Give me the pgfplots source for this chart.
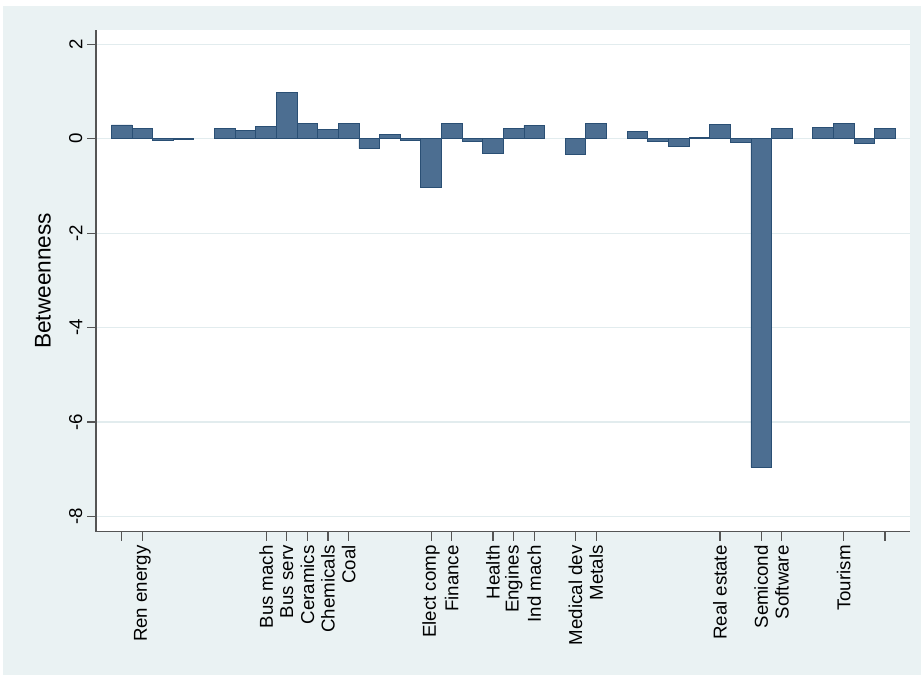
\documentclass[border=0pt]{standalone}
\usepackage{pgfplots}
\pgfplotsset{compat=1.18}
\usepackage{fontspec}
\setmainfont{Liberation Sans}
\definecolor{pagebg}{RGB}{234,242,243}
\definecolor{barfill}{RGB}{76,110,145}
\definecolor{baredge}{RGB}{42,79,116}
\definecolor{axisgray}{RGB}{85,85,85}
\definecolor{gridc}{RGB}{226,236,238}

\begin{document}
\begin{tikzpicture}[x=0.75pt,y=0.75pt]
% page and plot-region backgrounds
\fill[white] (0,0) rectangle (921,678);
\fill[pagebg] (3.3,3) rectangle (921,672);
\fill[white] (96,146.3) rectangle (910,648);
\begin{axis}[
  at={(72pt,109.725pt)}, anchor=south west,
  scale only axis, width=610.5pt, height=376.275pt,
  xmin=-1.245, xmax=38.21, ymin=-8.32, ymax=2.30,
  axis x line*=bottom, axis y line*=left,
  axis line style={-, draw=axisgray, line width=0.9pt},
  tick align=outside, major tick length=6.75pt,
  tick style={axisgray, line width=0.9pt},
  minor tick num=0,
  xtick={0,1,7,8,9,10,11,15,16,18,19,20,22,23,29,31,32,35,37},
  xticklabels={,Ren energy,Bus mach,Bus serv,Ceramics,Chemicals,Coal,Elect comp,Finance,Health,Engines,Ind mach,Medical dev,Metals,Real estate,Semicond,Software,Tourism,},
  ytick={-8,-6,-4,-2,0,2},
  yticklabels={-8,-6,-4,-2,0,2},
  xticklabel style={rotate=90, anchor=east, font=\fontsize{14}{16}\selectfont},
  yticklabel style={rotate=90, anchor=south, font=\fontsize{14}{16}\selectfont},
  ymajorgrids, major grid style={gridc, line width=0.9pt},
  ylabel={Betweenness},
  ylabel style={font=\fontsize{17}{20}\selectfont, at={(axis description cs:-0.0651,0.5)}, anchor=center},
]
\addplot[ybar, bar width=1, fill=barfill, draw=baredge, line width=0.6pt] coordinates {
  (0,0.29) (1,0.22) (2,-0.03) (3,-0.02)
  (5,0.22) (6,0.17) (7,0.26) (8,0.97) (9,0.33) (10,0.19) (11,0.33)
  (12,-0.21) (13,0.09) (14,-0.03) (15,-1.03) (16,0.33) (17,-0.06)
  (18,-0.32) (19,0.22) (20,0.28)
  (22,-0.34) (23,0.32)
  (25,0.16) (26,-0.06) (27,-0.16) (28,0.03) (29,0.31) (30,-0.08)
  (31,-6.96) (32,0.21)
  (34,0.23) (35,0.33) (36,-0.11) (37,0.22)
};
\end{axis}
\end{tikzpicture}
\end{document}
